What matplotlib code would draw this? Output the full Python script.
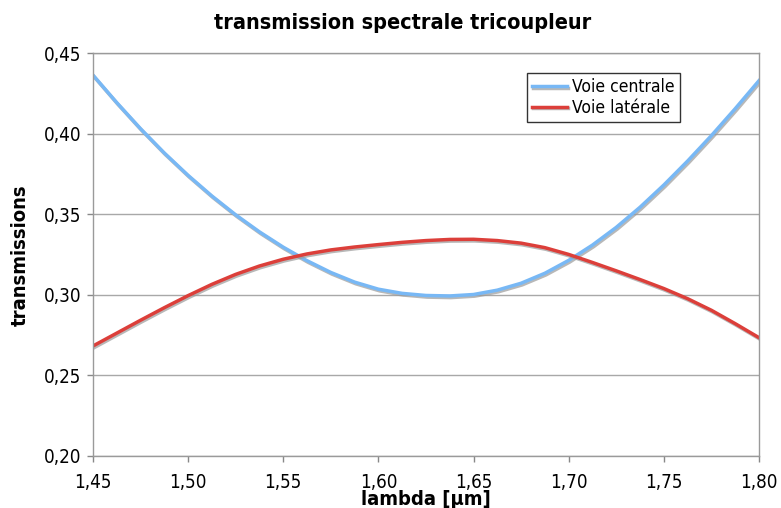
import matplotlib.pyplot as plt
import matplotlib.patheffects as pe
from matplotlib.ticker import FuncFormatter

# data
lam = [1.450, 1.4625, 1.475, 1.4875, 1.500, 1.5125, 1.525, 1.5375, 1.550, 1.5625,
       1.575, 1.5875, 1.600, 1.6125, 1.625, 1.6375, 1.650, 1.6625, 1.675, 1.6875,
       1.700, 1.7125, 1.725, 1.7375, 1.750, 1.7625, 1.775, 1.7875, 1.800]
voie_centrale = [0.4366, 0.4195, 0.4033, 0.3882, 0.3743, 0.3615, 0.3498, 0.3392,
                 0.3297, 0.3213, 0.3140, 0.3080, 0.3036, 0.3010, 0.2997, 0.2994,
                 0.3003, 0.3030, 0.3073, 0.3135, 0.3215, 0.3310, 0.3420, 0.3545,
                 0.3683, 0.3832, 0.3990, 0.4157, 0.4331]
voie_laterale = [0.2683, 0.2763, 0.2843, 0.2921, 0.2996, 0.3066, 0.3128, 0.3180,
                 0.3222, 0.3255, 0.3280, 0.3298, 0.3313, 0.3327, 0.3338, 0.3345,
                 0.3346, 0.3338, 0.3322, 0.3294, 0.3252, 0.3202, 0.3150, 0.3096,
                 0.3040, 0.2977, 0.2905, 0.2822, 0.2735]

plt.rcParams['font.family'] = ['DejaVu Sans']
plt.rcParams['font.stretch'] = 'condensed'

fig = plt.figure(figsize=(7.81, 5.08), dpi=100)
ax = fig.add_axes([0.119, 0.1024, 0.8528, 0.7923])

shadow = [pe.SimpleLineShadow(offset=(0.8, -1.2), shadow_color='#9a9a9a', alpha=0.7), pe.Normal()]
ax.plot(lam, voie_centrale, color='#78b8f5', lw=2.5, label='Voie centrale', path_effects=shadow)
ax.plot(lam, voie_laterale, color='#dc3f3a', lw=2.5, label='Voie latérale', path_effects=shadow)

ax.set_xlim(1.45, 1.80)
ax.set_ylim(0.20, 0.45)
ax.set_xticks([1.45, 1.50, 1.55, 1.60, 1.65, 1.70, 1.75, 1.80])
ax.set_yticks([0.20, 0.25, 0.30, 0.35, 0.40, 0.45])
fmt = FuncFormatter(lambda v, p: f"{v:.2f}".replace('.', ','))
ax.xaxis.set_major_formatter(fmt)
ax.yaxis.set_major_formatter(fmt)
ax.tick_params(labelsize=13.5, color='#888888', length=4.5, width=1)
ax.tick_params(axis='x', pad=7.5)
ax.tick_params(axis='y', pad=4)
ax.grid(axis='y', color='#a8a8a8', lw=1)
ax.set_axisbelow(True)
for s in ax.spines.values():
    s.set_color('#9a9a9a')
    s.set_linewidth(1)

ax.set_xlabel('lambda [µm]', fontsize=14.5, fontweight='bold', va='top')
ax.xaxis.set_label_coords(0.5, -0.0845)
ax.set_ylabel('transmissions', fontsize=14.5, fontweight='bold', va='center')
ax.yaxis.set_label_coords(-0.1096, 0.5)
fig.text(0.515, 0.955, 'transmission spectrale tricoupleur', fontsize=15.5,
         fontweight='bold', ha='center', va='center')

leg = ax.legend(loc='upper left', bbox_to_anchor=(0.6517, 0.9516), fontsize=12.5,
                frameon=True, fancybox=False, handlelength=2.0, handletextpad=0.3,
                borderpad=0.3, labelspacing=0.15, borderaxespad=0)
leg.get_frame().set_edgecolor('black')
leg.get_frame().set_linewidth(1)

plt.savefig('out.png', dpi=100)
